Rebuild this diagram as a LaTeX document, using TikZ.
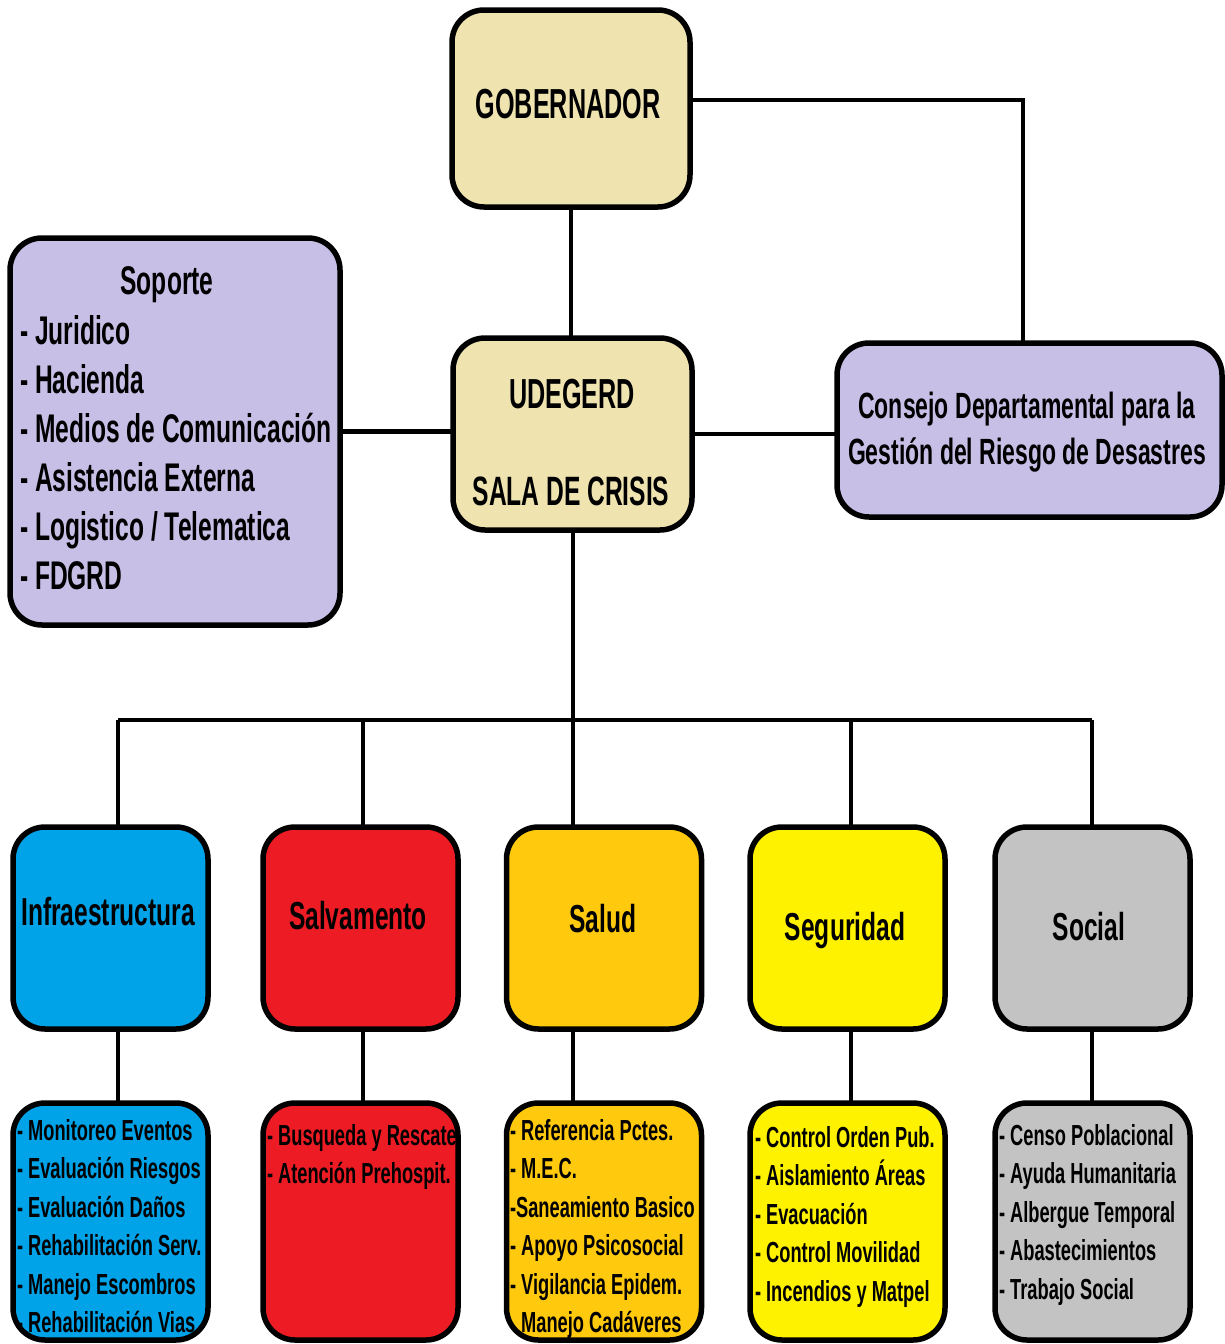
\documentclass[tikz,border=0pt]{standalone}
\usepackage{fontspec}
\newfontfamily\nf{Liberation Sans Bold}[FakeStretch=0.6]
\newfontfamily\nfm{Liberation Sans Bold}[FakeStretch=0.615]
\newfontfamily\nfw{Liberation Sans Bold}[FakeStretch=0.63]
\definecolor{cream}{HTML}{EFE4B0}
\definecolor{lav}{HTML}{C8BFE7}
\definecolor{cblue}{HTML}{00A2E8}
\definecolor{cred}{HTML}{ED1C24}
\definecolor{corange}{HTML}{FFC90E}
\definecolor{cyellow}{HTML}{FFF200}
\definecolor{cgray}{HTML}{C3C3C3}
\begin{document}
\begin{tikzpicture}[x=1pt,y=-1pt]
\tikzset{
 box/.style={draw=black,line width=5.5pt,rounded corners=32pt,inner sep=0pt,outer sep=0pt},
 conn/.style={line width=4.5pt,draw=black},
 txt/.style={inner sep=0pt,outer sep=0pt,text=black,anchor=base},
 ltxt/.style={inner sep=0pt,outer sep=0pt,text=black,anchor=base west},
 big/.style={font=\nf\fontsize{42}{49}\selectfont},
 mid/.style={font=\nfm\fontsize{40}{49}\selectfont},
 con/.style={font=\nfw\fontsize{36.5}{46}\selectfont},
 lab/.style={font=\nfw\fontsize{39}{46}\selectfont},
 small/.style={font=\nfw\fontsize{29}{38}\selectfont},
}
\useasboundingbox (0,0) rectangle (1225,1344);
% top boxes
\node[box,fill=cream,minimum width=238pt,minimum height=197pt] (gob) at (571,108.5) {};
\node[box,fill=cream,minimum width=239pt,minimum height=192pt] (ude) at (572.5,434) {};
\node[box,fill=lav,minimum width=330pt,minimum height=387pt] (sop) at (175,431.5) {};
\node[box,fill=lav,minimum width=385pt,minimum height=174pt] (cons) at (1029.5,430) {};
% upper row
\foreach \n/\c/\x in {infra/cblue/110.5, salv/cred/360.5, salud/corange/604, seg/cyellow/847.5, soc/cgray/1092.5}{
  \node[box,fill=\c,minimum width=195pt,minimum height=202pt] (\n) at (\x,928) {};
  \node[box,fill=\c,minimum width=195pt,minimum height=237pt] (\n l) at (\x,1221.5) {};
}
% texts
\node[txt,big] (tgob) at (568,118) {GOBERNADOR};
\node[txt,big] (tude1) at (572,408) {UDEGERD};
\node[txt,font=\nf\fontsize{41}{49}\selectfont] (tude2) at (571,505) {SALA DE CRISIS};
\node[txt,mid] (tsop) at (167,294) {Soporte};
\foreach \t [count=\i] in {Juridico,Hacienda,Medios de Comunicación,Asistencia Externa,Logistico / Telematica,FDGRD}{
  \node[ltxt,mid] (sop\i) at (20,{344+49*(\i-1)}) {- \t};
}
\node[txt,con] (tcon1) at (1027,418) {Consejo Departamental para la};
\node[txt,con] (tcon2) at (1027,464) {Gestión del Riesgo de Desastres};
\node[txt,lab] (tinfra) at (108,925) {Infraestructura};
\node[txt,lab] (tsalv) at (358,929) {Salvamento};
\node[txt,lab] (tsalud) at (603,932) {Salud};
\node[txt,lab] (tseg) at (845,940) {Seguridad};
\node[txt,lab] (tsoc) at (1089,940) {Social};
% lists
\foreach \t [count=\i] in {- Monitoreo Eventos,- Evaluación Riesgos,- Evaluación Daños,- Rehabilitación Serv.,- Manejo Escombros,- Rehabilitación Vias}{
  \node[ltxt,small] (li\i) at (17,{1140+38.5*(\i-1)}) {\t};
}
\foreach \t [count=\i] in {- Busqueda y Rescate,- Atención Prehospit.}{
  \node[ltxt,small] (ls\i) at (267,{1145+38.5*(\i-1)}) {\t};
}
\foreach \t [count=\i] in {- Referencia Pctes.,- M.E.C.,-Saneamiento Basico,- Apoyo Psicosocial,- Vigilancia Epidem.,\phantom{- }Manejo Cadáveres}{
  \node[ltxt,small] (lh\i) at (510,{1140+38.5*(\i-1)}) {\t};
}
\foreach \t [count=\i] in {- Control Orden Pub.,- Aislamiento Áreas,- Evacuación,- Control Movilidad,- Incendios y Matpel}{
  \node[ltxt,small] (lg\i) at (755,{1147+38.5*(\i-1)}) {\t};
}
\foreach \t [count=\i] in {- Censo Poblacional,- Ayuda Humanitaria,- Albergue Temporal,- Abastecimientos,- Trabajo Social}{
  \node[ltxt,small] (lo\i) at (999,{1145+38.5*(\i-1)}) {\t};
}
% connectors
\draw[conn] (gob.south) -- (gob.south |- ude.north);
\draw[conn] ([yshift=8.5pt]gob.east) -| ([xshift=-6.5pt]cons.north);
\draw[conn] (sop.east) -- (sop.east -| ude.west);
\draw[conn] (ude.east) -- (ude.east -| cons.west);
\coordinate (b1) at (118,720);
\coordinate (b2) at (363,720);
\coordinate (b3) at (573,720);
\coordinate (b4) at (851,720);
\coordinate (b5) at (1092,720);
\draw[conn] (b3 |- ude.south) -- (b3);
\draw[conn] (b1) -- (b5);
\foreach \b/\n in {b1/infra,b2/salv,b3/salud,b4/seg,b5/soc}{
  \draw[conn] (\b) -- (\b |- \n.north);
  \draw[conn] (\b |- \n.south) -- (\b |- \n l.north);
}
\end{tikzpicture}
\end{document}
